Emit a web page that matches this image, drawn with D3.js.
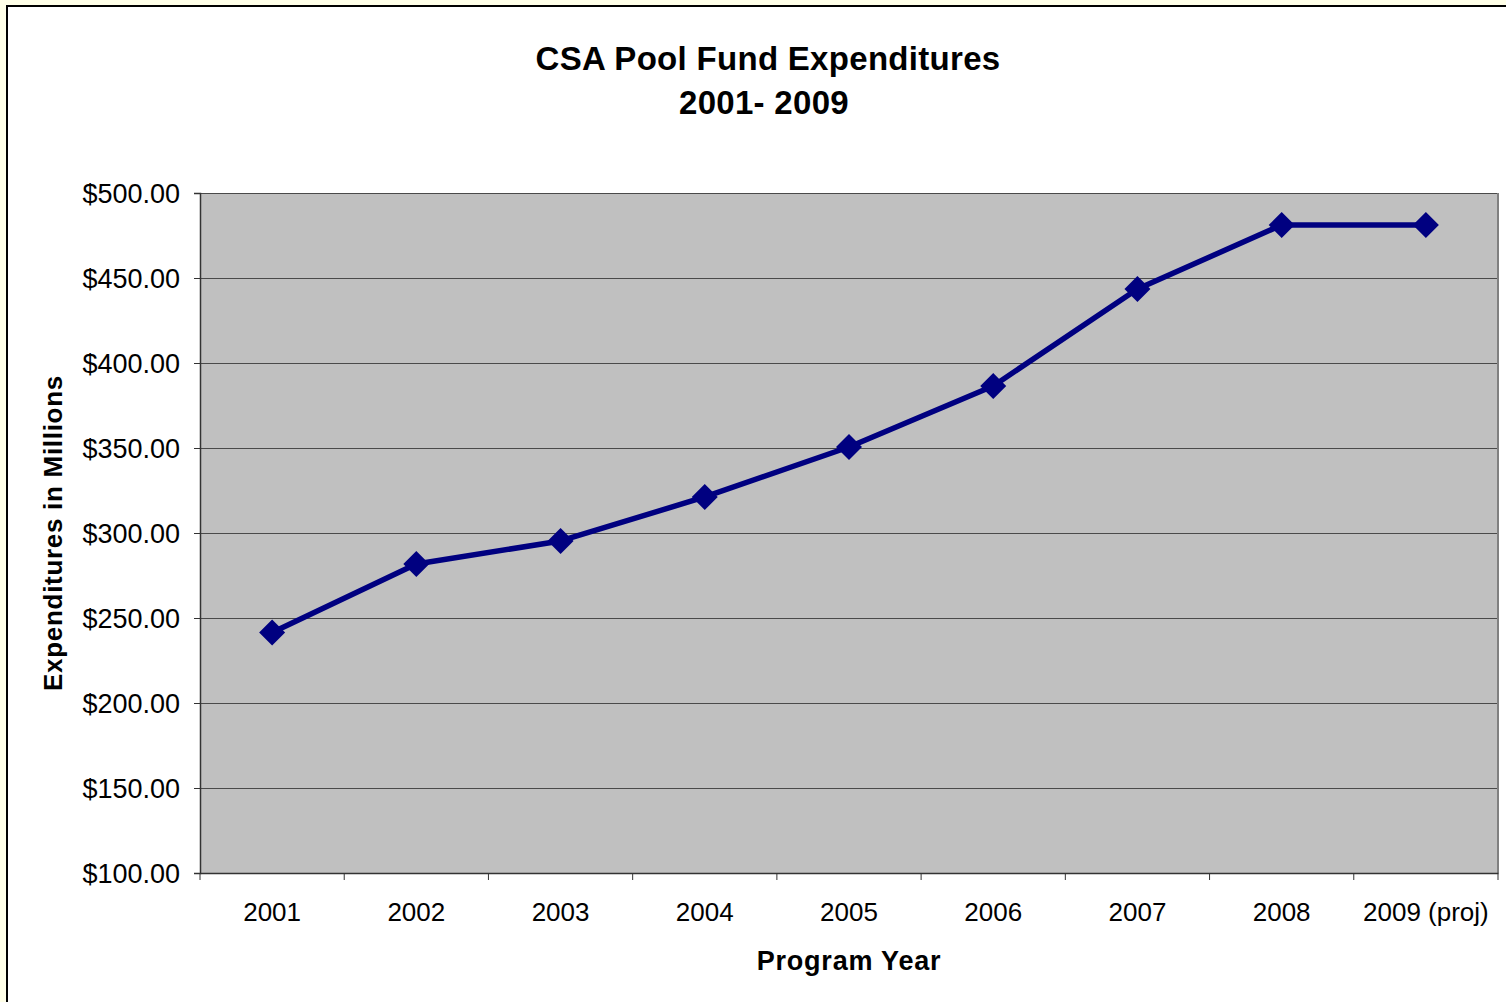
<!DOCTYPE html>
<html><head><meta charset="utf-8">
<script src="https://cdn.jsdelivr.net/npm/d3@7"></script>
<style>
html,body{margin:0;padding:0;background:#FFFFE8;}
svg{display:block;font-family:"Liberation Sans",Arial,sans-serif;}
</style></head>
<body>
<svg id="c" width="1506" height="1002"></svg>
<script>
const categories = ["2001","2002","2003","2004","2005","2006","2007","2008","2009 (proj)"];
const expenditures = [241.5, 281.8, 295.3, 321.2, 350.6, 386.5, 443.5, 481.2, 481.2];
const yTicks = [100,150,200,250,300,350,400,450,500];
const titleLines = ["CSA Pool Fund Expenditures","2001- 2009"];

const svg = d3.select("#c");
svg.append("rect").attr("x",7).attr("y",6).attr("width",1510).attr("height",1010)
  .attr("fill","#fff").attr("stroke","#000").attr("stroke-width",2);

const L=200,T=193,R=1498,B=873;
const x = d3.scaleBand().domain(categories).range([L,R]).padding(0);
const y = d3.scaleLinear().domain([100,500]).range([B,T]);

svg.append("rect").attr("x",L).attr("y",T).attr("width",R-L).attr("height",B-T).attr("fill","#C0C0C0");

svg.append("g").selectAll("line").data(yTicks.filter(d=>d>100)).join("line")
  .attr("x1",L).attr("x2",R).attr("y1",d=>y(d)).attr("y2",d=>y(d))
  .attr("stroke","#4a4a4a").attr("stroke-width",1).attr("shape-rendering","crispEdges");

svg.append("line").attr("x1",R).attr("x2",R).attr("y1",T).attr("y2",B).attr("stroke","#808080").attr("stroke-width",2);

const yAxis = d3.axisLeft(y).tickValues(yTicks).tickSize(6).tickPadding(14).tickFormat(d=>"$"+d3.format(".2f")(d));
const gy = svg.append("g").attr("transform",`translate(${L},0)`).call(yAxis);
gy.attr("font-size",null).attr("font-family",null);
gy.select(".domain").attr("stroke","#333").attr("stroke-width",1.5);
gy.selectAll(".tick line").attr("stroke","#333");
gy.selectAll("text").style("font-size","27px").attr("fill","#000").attr("dy","0.36em");

const xAxis = d3.axisBottom(x).tickSize(0).tickPadding(30);
const gx = svg.append("g").attr("transform",`translate(0,${B})`).call(xAxis);
gx.attr("font-size",null).attr("font-family",null);
gx.select(".domain").attr("stroke","#333").attr("stroke-width",1.5);
gx.selectAll("text").style("font-size","26px").attr("fill","#000");
const bounds = categories.map(c=>x(c)).concat([R]);
gx.append("g").selectAll("line").data(bounds).join("line")
  .attr("x1",d=>d).attr("x2",d=>d).attr("y1",0).attr("y2",7).attr("stroke","#333").attr("stroke-width",1);

const line = d3.line().x((d,i)=>x(categories[i])+x.bandwidth()/2).y(d=>y(d));
svg.append("path").datum(expenditures).attr("d",line).attr("fill","none")
  .attr("stroke","#000080").attr("stroke-width",5.5).attr("stroke-linejoin","round");
svg.append("g").selectAll("path").data(expenditures).join("path")
  .attr("transform",(d,i)=>`translate(${x(categories[i])+x.bandwidth()/2},${y(d)})`)
  .attr("d","M0,-13L13,0L0,13L-13,0Z").attr("fill","#000080");

svg.append("g").selectAll("text").data(titleLines).join("text")
  .attr("x",(d,i)=>i===0?768:764).attr("y",(d,i)=>70+i*44).attr("text-anchor","middle")
  .style("font-size","33px").attr("font-weight","bold").attr("letter-spacing",0.3).text(d=>d);

svg.append("text").attr("x",(L+R)/2).attr("y",970).attr("text-anchor","middle")
  .style("font-size","27px").attr("font-weight","bold").attr("letter-spacing",0.8).text("Program Year");
svg.append("text").attr("transform",`translate(62,${(T+B)/2}) rotate(-90)`).attr("text-anchor","middle")
  .style("font-size","26px").attr("font-weight","bold").attr("letter-spacing",0.7).text("Expenditures in Millions");
</script>
</body></html>
